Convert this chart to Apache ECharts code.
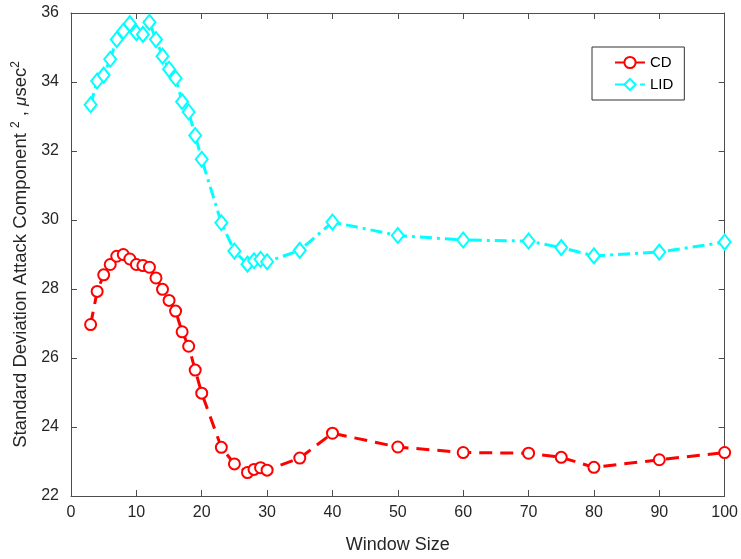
<!DOCTYPE html>
<html>
<head>
<meta charset="utf-8">
<script src="https://cdn.jsdelivr.net/npm/echarts@6/dist/echarts.min.js"></script>
<style>html,body{margin:0;padding:0;background:#fff;}#c{width:741px;height:559px;}</style>
</head>
<body>
<div id="c"></div>
<script>
var windowSizes = [3,4,5,6,7,8,9,10,11,12,13,14,15,16,17,18,19,20,23,25,27,28,29,30,35,40,50,60,70,75,80,90,100];
var cdValues = [26.97,27.93,28.41,28.71,28.95,29.0,28.87,28.71,28.68,28.63,28.32,27.99,27.67,27.36,26.76,26.34,25.65,24.98,23.41,22.93,22.68,22.77,22.82,22.75,23.10,23.82,23.42,23.26,23.24,23.12,22.83,23.05,23.26];
var lidValues = [33.34,34.03,34.20,34.66,35.23,35.47,35.69,35.43,35.38,35.73,35.23,34.75,34.37,34.11,33.43,33.13,32.45,31.76,29.92,29.10,28.72,28.82,28.86,28.79,29.12,29.94,29.55,29.42,29.39,29.20,28.96,29.07,29.36];
var seriesNames = ['CD', 'LID'];
var xAxisTitle = 'Window Size';

function pairs(xs, ys) { return xs.map(function (x, i) { return [x, ys[i]]; }); }

var FONT = 'Liberation Sans, Arial, Helvetica, sans-serif';
var axisColor = '#4d4d4d';
var textColor = '#262626';

var chart = echarts.init(document.getElementById('c'), null, { renderer: 'canvas' });
var baseAxis = {
  axisLine: { show: true, onZero: false, lineStyle: { color: axisColor, width: 1 } },
  axisTick: { show: true, inside: true, length: 6, lineStyle: { color: axisColor } },
  splitLine: { show: false }
};
chart.setOption({
  animation: false,
  backgroundColor: '#fff',
  grid: { left: 71, right: 13, top: 13, bottom: 59, containLabel: false },
  legend: {
    orient: 'vertical',
    left: 592, top: 47,
    padding: [8, 11, 8, 22],
    itemWidth: 30, itemHeight: 14, itemGap: 7,
    borderColor: '#333', borderWidth: 1,
    backgroundColor: '#fff',
    textStyle: { fontFamily: FONT, fontSize: 15, color: '#000' },
    data: seriesNames
  },
  xAxis: [
    Object.assign({}, baseAxis, {
      type: 'value', min: 0, max: 100, interval: 10, position: 'bottom',
      axisLabel: { fontFamily: FONT, fontSize: 16, color: textColor, margin: 9 },
      name: xAxisTitle, nameLocation: 'middle', nameGap: 40,
      nameTextStyle: { fontFamily: FONT, fontSize: 18, color: textColor }
    }),
    Object.assign({}, baseAxis, {
      type: 'value', min: 0, max: 100, interval: 10, position: 'top',
      axisLabel: { show: false }
    })
  ],
  yAxis: [
    Object.assign({}, baseAxis, {
      type: 'value', min: 22, max: 36, interval: 2, position: 'left',
      axisLabel: { fontFamily: FONT, fontSize: 16, color: textColor, margin: 12 },
      name: 'Standard Deviation Attack Component {s|2} , {m|μ}sec{s|2}',
      nameLocation: 'middle', nameGap: 37,
      nameTextStyle: {
        fontFamily: FONT, fontSize: 18.5, color: textColor,
        rich: {
          s: { fontFamily: FONT, fontSize: 12, color: textColor, verticalAlign: 'top', lineHeight: 22 },
          m: { fontFamily: FONT, fontSize: 17, fontStyle: 'italic', color: textColor }
        }
      }
    }),
    Object.assign({}, baseAxis, {
      type: 'value', min: 22, max: 36, interval: 2, position: 'right',
      axisLabel: { show: false }
    })
  ],
  series: [
    {
      name: seriesNames[0], type: 'line',
      data: pairs(windowSizes, cdValues),
      symbol: 'emptyCircle', symbolSize: 11,
      itemStyle: { color: '#ff0000', borderColor: '#ff0000', borderWidth: 2.8 },
      lineStyle: { color: '#ff0000', width: 3, type: [13, 8] }
    },
    {
      name: seriesNames[1], type: 'line',
      data: pairs(windowSizes, lidValues),
      symbol: 'emptyDiamond', symbolSize: [12, 15],
      itemStyle: { color: '#00ffff', borderColor: '#00ffff', borderWidth: 2.8 },
      lineStyle: { color: '#00ffff', width: 3, type: [12, 5, 3, 5] }
    }
  ]
});
</script>
</body>
</html>
